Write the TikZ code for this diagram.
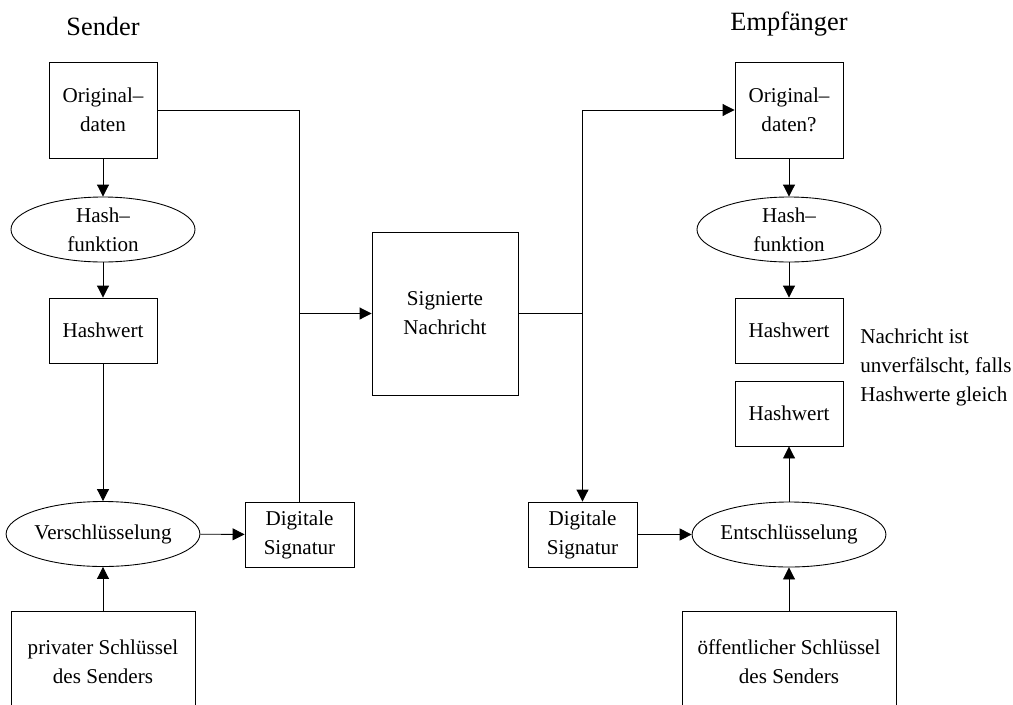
\documentclass[tikz,border=0pt]{standalone}
\usepackage{fontspec}
\setmainfont{Liberation Serif}
\usetikzlibrary{arrows.meta,shapes.geometric}

\begin{document}
\begin{tikzpicture}

\tikzset{mybox/.style={draw=black, line width=0.5pt, rectangle, inner sep=0pt, align=center, font=\fontsize{12}{16.5}\selectfont}}
\tikzset{myoval/.style={draw=black, line width=0.5pt, ellipse, inner sep=0pt, minimum width=3.68cm, minimum height=1.30cm, align=center, font=\fontsize{12}{16.5}\selectfont}}
\tikzset{mytitle/.style={anchor=base, font=\fontsize{15}{18}\selectfont}}
\tikzset{myarrow/.style={line width=0.5pt, -{Triangle[length=0.24cm, width=0.24cm]}}}
\tikzset{myline/.style={line width=0.5pt}}

\useasboundingbox (0,0) rectangle (20.26,-14.08);
\clip (0,0) rectangle (20.26,-14.08);

% Sender
\node[mytitle] (tsend) at (2.06,-0.70) {Sender};
\node[mybox, minimum width=2.16cm, minimum height=1.92cm] (origL) at (2.06,-2.20) {Original–\\daten};
\node[myoval] (hashL) at (2.06,-4.59) {Hash–\\funktion};
\node[mybox, minimum width=2.16cm, minimum height=1.30cm] (wertL) at (2.06,-6.61) {Hashwert};
\node[myoval] (encr) at (2.06,-10.68) {Verschlüsselung};
\node[mybox, minimum width=3.68cm, minimum height=2.04cm] (privkey) at (2.06,-13.24) {privater Schlüssel\\des Senders};
\node[mybox, minimum width=2.18cm, minimum height=1.30cm] (sigL) at (5.99,-10.69) {Digitale\\Signatur};

% Nachricht
\node[mybox, minimum width=2.92cm, minimum height=3.26cm] (msg) at (8.90,-6.27) {Signierte\\Nachricht};

% Empfaenger
\node[mytitle] (trecv) at (15.78,-0.60) {Empfänger};
\node[mybox, minimum width=2.16cm, minimum height=1.92cm] (origR) at (15.78,-2.20) {Original–\\daten?};
\node[myoval] (hashR) at (15.78,-4.59) {Hash–\\funktion};
\node[mybox, minimum width=2.16cm, minimum height=1.30cm] (wertR) at (15.78,-6.61) {Hashwert};
\node[mybox, minimum width=2.16cm, minimum height=1.30cm] (wertD) at (15.78,-8.27) {Hashwert};
\node[myoval] (decr) at (15.78,-10.69) {Entschlüsselung};
\node[mybox, minimum width=4.28cm, minimum height=2.04cm] (pubkey) at (15.78,-13.24) {öffentlicher Schlüssel\\des Senders};
\node[mybox, minimum width=2.18cm, minimum height=1.30cm] (sigR) at (11.65,-10.69) {Digitale\\Signatur};
\node[anchor=west, align=left, inner sep=0pt, font=\fontsize{12}{16.5}\selectfont] (note) at (17.20,-7.34) {Nachricht ist\\unverfälscht, falls\\Hashwerte gleich};

% Verbindungen links
\draw[myarrow] (origL) -- (hashL);
\draw[myarrow] (hashL) -- (wertL);
\draw[myarrow] (wertL) -- (encr);
\draw[myarrow] (privkey) -- (encr);
\draw[myarrow] (encr) -- (sigL);
\draw[myline] (origL.east) -| (sigL.north);
\draw[myarrow] (sigL.north |- msg.west) -- (msg.west);

% Verbindungen rechts
\draw[myarrow] (msg.east) -| (sigR.north);
\draw[myarrow] (sigR.north |- msg.east) |- (origR.west);
\draw[myarrow] (origR) -- (hashR);
\draw[myarrow] (hashR) -- (wertR);
\draw[myarrow] (sigR) -- (decr);
\draw[myarrow] (decr) -- (wertD);
\draw[myarrow] (pubkey) -- (decr);

\end{tikzpicture}
\end{document}
